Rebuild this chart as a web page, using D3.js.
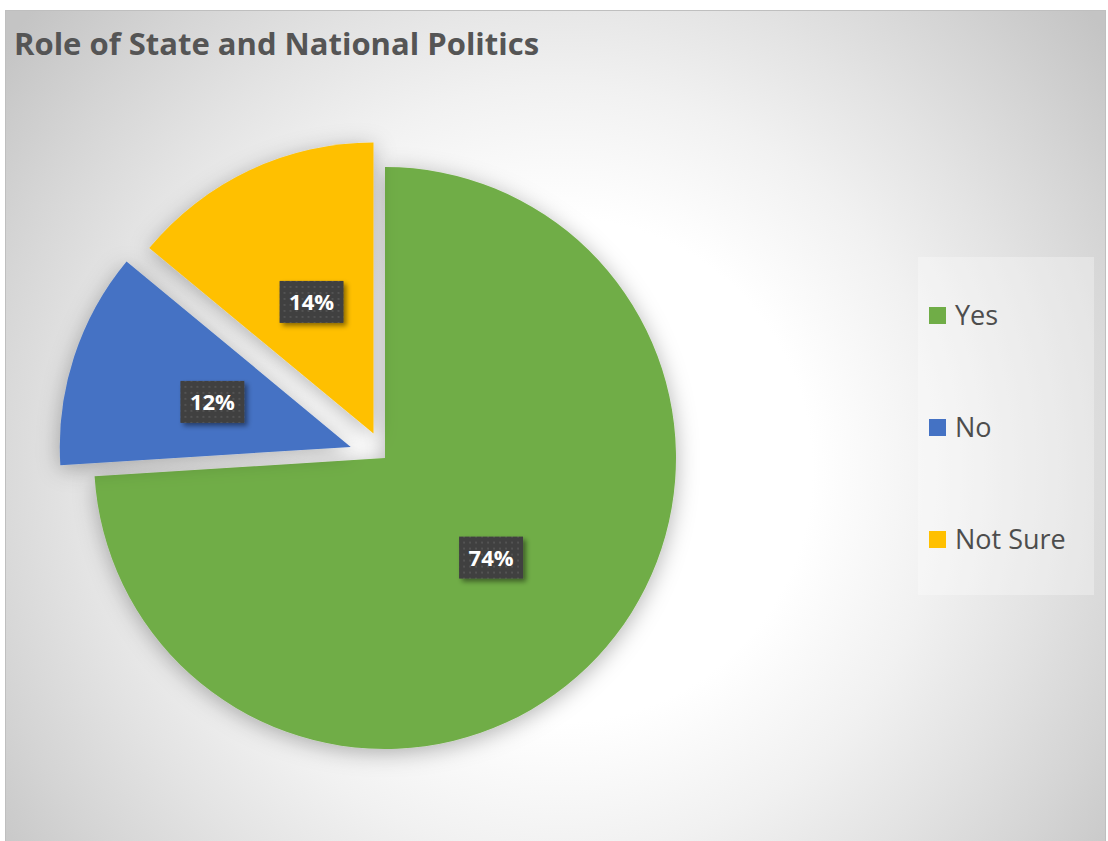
<!DOCTYPE html>
<html>
<head>
<meta charset="utf-8">
<script src="https://cdn.jsdelivr.net/npm/d3@7"></script>
<style>
  html, body { margin: 0; padding: 0; background: #ffffff; }
  svg { display: block; }
</style>
</head>
<body>
<svg id="chart" width="1108" height="841"></svg>
<script>
// Survey answers: share of respondents per answer (percent)
const categories = ["Yes", "No", "Not Sure"];
const values = [74, 12, 14];
const sliceColors = ["#70AD47", "#4472C4", "#FFC000"];
const titleText = "Role of State and National Politics";

// how far each slice is pulled out of the pie, px (styling)
const explode = { "Yes": 0, "No": 36, "Not Sure": 27 };

const W = 1108, H = 841;
const svg = d3.select("#chart");
const defs = svg.append("defs");

// chart-area radial fill
const bg = defs.append("radialGradient")
  .attr("id", "bgGrad")
  .attr("gradientUnits", "userSpaceOnUse")
  .attr("cx", 560).attr("cy", 470).attr("r", 700);
[[0, "#ffffff"], [0.36, "#ffffff"], [0.55, "#f1f1f1"], [0.7, "#e3e3e3"], [0.85, "#d4d4d4"], [1, "#c4c4c4"]]
  .forEach(([o, c]) => bg.append("stop").attr("offset", o).attr("stop-color", c));

// soft shadow under the pie
const pieShadow = defs.append("filter").attr("id", "pieShadow")
  .attr("x", "-20%").attr("y", "-20%").attr("width", "140%").attr("height", "140%");
pieShadow.append("feDropShadow")
  .attr("dx", 0).attr("dy", 4).attr("stdDeviation", 11)
  .attr("flood-color", "#000").attr("flood-opacity", 0.3);

// small shadow under the value boxes
const boxShadow = defs.append("filter").attr("id", "boxShadow")
  .attr("x", "-30%").attr("y", "-30%").attr("width", "160%").attr("height", "160%");
boxShadow.append("feDropShadow")
  .attr("dx", 3).attr("dy", 3).attr("stdDeviation", 2.5)
  .attr("flood-color", "#000").attr("flood-opacity", 0.45);

// dotted texture for the value boxes
const dots = defs.append("pattern").attr("id", "dots")
  .attr("patternUnits", "userSpaceOnUse").attr("width", 6).attr("height", 6);
dots.append("rect").attr("width", 6).attr("height", 6).attr("fill", "#404040");
dots.append("rect").attr("x", 2).attr("y", 2).attr("width", 2).attr("height", 2).attr("fill", "#525252");

// chart area
svg.append("rect")
  .attr("x", 5.5).attr("y", 10.5).attr("width", 1100).attr("height", 840)
  .attr("fill", "url(#bgGrad)")
  .attr("stroke", "#bfbfbf").attr("stroke-width", 1);

// title
svg.append("text")
  .attr("x", 14).attr("y", 55)
  .attr("font-family", "'Open Sans', sans-serif")
  .attr("font-weight", 700)
  .attr("font-size", 31)
  .attr("fill", "#555555")
  .text(titleText);

// pie
const cx = 385, cy = 458, R = 291;
const color = d3.scaleOrdinal().domain(categories).range(sliceColors);
const pie = d3.pie().sort(null).value(d => d.value);
const data = categories.map((c, i) => ({ name: c, value: values[i] }));
const arcs = pie(data);
const arc = d3.arc().innerRadius(0).outerRadius(R);

const shift = d => {
  const mid = (d.startAngle + d.endAngle) / 2;
  const k = explode[d.data.name] || 0;
  return [Math.sin(mid) * k, -Math.cos(mid) * k];
};

const pieG = svg.append("g").attr("transform", `translate(${cx},${cy})`);
pieG.selectAll("path.slice")
  .data(arcs)
  .join("path")
  .attr("class", "slice")
  .attr("transform", d => `translate(${shift(d)})`)
  .attr("d", arc)
  .attr("fill", d => color(d.data.name))
  .attr("filter", "url(#pieShadow)");

// value labels
const total = d3.sum(values);
const fmt = d3.format(".0%");
const labels = pieG.selectAll("g.label")
  .data(arcs)
  .join("g")
  .attr("class", "label")
  .attr("transform", d => {
    const [sx, sy] = shift(d);
    const [lx, ly] = arc.centroid(d);
    return `translate(${lx + sx},${ly + sy})`;
  });

labels.append("rect")
  .attr("x", -32).attr("y", -21).attr("width", 64).attr("height", 42)
  .attr("fill", "url(#dots)")
  .attr("filter", "url(#boxShadow)");

labels.append("text")
  .attr("text-anchor", "middle")
  .attr("dy", "0.36em")
  .attr("font-family", "'Open Sans', sans-serif")
  .attr("font-weight", 700)
  .attr("font-size", 22)
  .attr("fill", "#ffffff")
  .text(d => fmt(d.data.value / total));

// legend
const legendG = svg.append("g");
legendG.append("rect")
  .attr("x", 918).attr("y", 257).attr("width", 176).attr("height", 338)
  .attr("fill", "#ffffff").attr("fill-opacity", 0.3);

const legendY = d3.scalePoint().domain(categories).range([315, 539]);
const items = legendG.selectAll("g.item")
  .data(categories)
  .join("g")
  .attr("class", "item")
  .attr("transform", c => `translate(929,${legendY(c)})`);
items.append("rect")
  .attr("x", 0).attr("y", -8).attr("width", 17).attr("height", 17)
  .attr("fill", c => color(c));
items.append("text")
  .attr("x", 26).attr("y", 0).attr("dy", "0.36em")
  .attr("font-family", "'Open Sans', sans-serif")
  .attr("font-size", 27)
  .attr("fill", "#4d4d4d")
  .text(c => c);
</script>
</body>
</html>
